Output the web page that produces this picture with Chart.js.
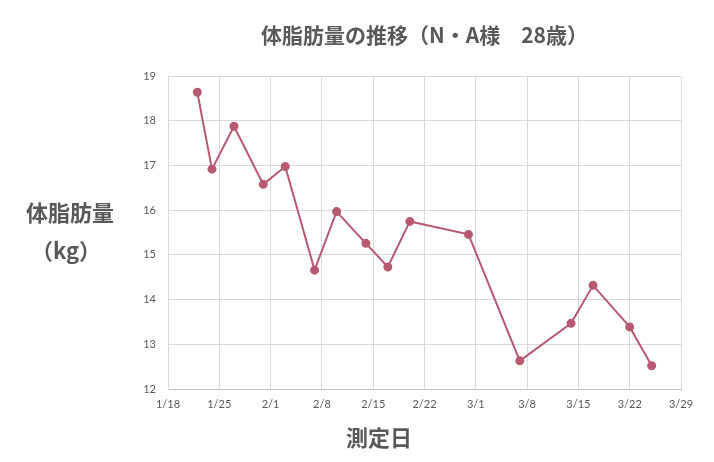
<!DOCTYPE html>
<html>
<head>
<meta charset="utf-8">
<script src="https://cdn.jsdelivr.net/npm/chart.js@4"></script>
<style>
  html, body { margin: 0; padding: 0; background: #fff; }
</style>
</head>
<body>
<canvas id="fat-chart" width="714" height="462"></canvas>
<script>
// measured dates and body-fat mass (kg)
const measureDates = ['1/22', '1/24', '1/27', '1/31', '2/3', '2/7', '2/10', '2/14', '2/17', '2/20', '2/28', '3/7', '3/14', '3/17', '3/22', '3/25'];
const fatMass = [18.64, 16.92, 17.88, 16.58, 16.98, 14.66, 15.97, 15.26, 14.73, 15.75, 15.46, 12.63, 13.47, 14.32, 13.39, 12.52];
const xTickLabels = ['1/18', '1/25', '2/1', '2/8', '2/15', '2/22', '3/1', '3/8', '3/15', '3/22', '3/29'];
const yMin = 12, yMax = 19;

const titleText = '体脂肪量の推移（N・A様　28歳）';
const yTitleLines = ['体脂肪量', '（kg）'];
const xTitleText = '測定日';

// day offset from 1/18 (non-leap year)
const monthStart = { 1: 0, 2: 31, 3: 59 };
function dayIndex(s) {
    const [m, d] = s.split('/').map(Number);
    return monthStart[m] + d - 18;
}

const points = measureDates.map((s, i) => ({ x: dayIndex(s), y: fatMass[i] }));

const textColor = '#595959';
const cjk = '"Noto Sans CJK JP", "Noto Sans", sans-serif';

const axisTitles = {
    id: 'axisTitles',
    afterDraw(chart) {
        const ctx = chart.ctx;
        ctx.save();
        ctx.fillStyle = textColor;
        ctx.font = 'bold 22px ' + cjk;
        ctx.textAlign = 'center';
        ctx.textBaseline = 'middle';
        ctx.fillText(yTitleLines[0], 70, 213);
        ctx.fillText(yTitleLines[1], 66, 251);
        ctx.fillText(xTitleText, 379, 438);
        ctx.restore();
    }
};

new Chart(document.getElementById('fat-chart').getContext('2d'), {
    type: 'line',
    data: {
        datasets: [{
            data: points,
            borderColor: '#b75a6f',
            backgroundColor: '#b75a6f',
            borderWidth: 2,
            pointRadius: 3.5,
            pointHoverRadius: 3.5,
            tension: 0
        }]
    },
    options: {
        responsive: false,
        animation: false,
        layout: { padding: { left: 140, right: 33, top: 0, bottom: 0 } },
        plugins: {
            legend: { display: false },
            tooltip: { enabled: false },
            title: {
                display: true,
                text: titleText,
                fullSize: false,
                color: textColor,
                font: { family: cjk, size: 21, weight: 'bold' },
                padding: { top: 22, bottom: 29 }
            }
        },
        scales: {
            x: {
                type: 'linear',
                min: 0,
                max: 70,
                afterFit: (s) => { s.height = 73; },
                ticks: {
                    stepSize: 7,
                    color: textColor,
                    font: { family: 'Lato, "Noto Sans", sans-serif', size: 11 },
                    padding: 9,
                    maxRotation: 0,
                    callback: (v) => xTickLabels[v / 7]
                },
                grid: { color: '#d9d9d9', drawTicks: false },
                border: { color: '#bfbfbf' }
            },
            y: {
                min: yMin,
                max: yMax,
                afterFit: (s) => { s.width = 28; },
                ticks: {
                    stepSize: 1,
                    color: textColor,
                    font: { family: 'Lato, "Noto Sans", sans-serif', size: 11 },
                    padding: 12
                },
                grid: { color: '#d9d9d9', drawTicks: false },
                border: { color: '#d9d9d9' }
            }
        }
    },
    plugins: [axisTitles]
});
</script>
</body>
</html>
